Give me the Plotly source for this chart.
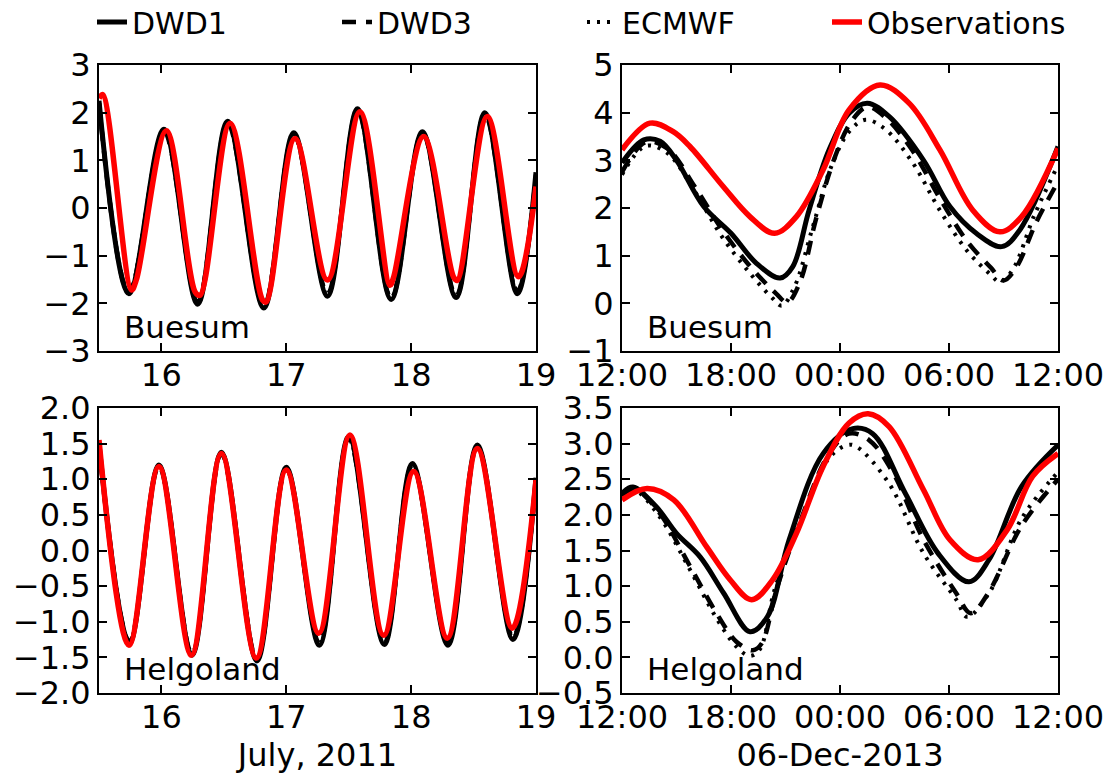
import plotly.graph_objects as go
from datetime import datetime, timedelta

# ---------------- Data ----------------
# July 2011, x = day of month (decimal days)
bue_jul_obs_t = [15.50, 15.53, 15.76, 15.80, 16.04, 16.27, 16.31, 16.55, 16.81, 16.84, 17.07, 17.33, 17.59, 17.83, 17.86, 18.10, 18.34, 18.37, 18.61, 18.86, 19.00]
bue_jul_obs_v = [2.30, 2.38, -1.72, -1.50, 1.62, -1.76, -1.83, 1.78, -1.93, -1.97, 1.46, -1.51, 2.02, -1.62, -1.45, 1.50, -1.45, -1.52, 1.92, -1.44, 0.45]

bue_jul_mod_t = [15.50, 15.74, 16.02, 16.29, 16.53, 16.82, 17.06, 17.33, 17.57, 17.84, 18.09, 18.36, 18.59, 18.85, 19.00]
bue_jul_dwd1_v = [2.25, -1.80, 1.65, -2.02, 1.82, -2.10, 1.58, -1.85, 2.08, -1.92, 1.60, -1.88, 2.00, -1.80, 0.75]
bue_jul_dwd3_v = [2.20, -1.78, 1.60, -1.98, 1.78, -2.05, 1.55, -1.80, 2.05, -1.90, 1.58, -1.85, 1.97, -1.75, 0.70]
bue_jul_ecmwf_v = [2.22, -1.75, 1.62, -2.00, 1.80, -2.08, 1.56, -1.83, 2.06, -1.88, 1.57, -1.86, 1.98, -1.78, 0.72]

hel_jul_obs_t = [15.50, 15.74, 15.98, 16.24, 16.48, 16.76, 17.00, 17.26, 17.51, 17.78, 18.02, 18.29, 18.53, 18.81, 19.00]
hel_jul_obs_v = [1.55, -1.33, 1.18, -1.47, 1.36, -1.51, 1.13, -1.16, 1.62, -1.19, 1.11, -1.23, 1.43, -1.09, 0.99]

hel_jul_mod_t = [15.50, 15.745, 15.98, 16.245, 16.48, 16.765, 17.00, 17.265, 17.50, 17.785, 18.01, 18.295, 18.53, 18.815, 19.00]
hel_jul_dwd1_v = [1.50, -1.30, 1.20, -1.47, 1.38, -1.55, 1.17, -1.33, 1.60, -1.32, 1.22, -1.33, 1.48, -1.25, 1.02]
hel_jul_dwd3_v = [1.48, -1.28, 1.18, -1.45, 1.36, -1.53, 1.15, -1.30, 1.58, -1.30, 1.20, -1.30, 1.46, -1.22, 1.00]
hel_jul_ecmwf_v = [1.49, -1.29, 1.19, -1.46, 1.37, -1.54, 1.16, -1.31, 1.59, -1.31, 1.21, -1.31, 1.47, -1.23, 1.01]

# December 2013, x = hours after 05-Dec-2013 12:00
bue_dec_obs_h = [0, 1.54, 2.82, 3.74, 5.57, 7.04, 8.4, 9.6, 11.07, 12.5, 14.2, 15.8, 17.5, 19.3, 20.8, 22.0, 24.0]
bue_dec_obs_v = [3.22, 3.78, 3.60, 3.29, 2.45, 1.82, 1.47, 1.82, 2.80, 4.06, 4.58, 4.20, 3.22, 1.96, 1.50, 1.82, 3.25]

bue_dec_dwd1_h = [0, 1.2, 2.1, 3.0, 4.5, 6.0, 7.4, 8.7, 9.4, 10.3, 11.4, 12.5, 13.5, 14.7, 16.6, 18.05, 19.5, 20.9, 21.9, 24.0]
bue_dec_dwd1_v = [2.95, 3.43, 3.40, 3.00, 2.03, 1.47, 0.84, 0.53, 0.77, 1.96, 3.22, 3.99, 4.20, 3.92, 3.00, 2.03, 1.47, 1.19, 1.54, 3.29]

bue_dec_dwd3_h = [0, 1.3, 2.5, 4.0, 5.5, 7.0, 8.5, 9.1, 9.8, 10.7, 11.7, 12.6, 13.5, 14.5, 16.0, 17.5, 19.0, 20.3, 21.0, 21.7, 22.8, 24.0]
bue_dec_dwd3_v = [2.75, 3.38, 3.25, 2.45, 1.55, 0.80, 0.20, 0.02, 0.45, 1.80, 3.05, 3.80, 4.12, 3.90, 3.20, 2.20, 1.30, 0.75, 0.48, 0.75, 1.70, 2.55]

bue_dec_ecmwf_h = [0, 1.3, 2.5, 4.0, 5.5, 7.0, 8.3, 8.8, 9.5, 10.5, 11.5, 12.5, 13.4, 14.5, 16.0, 17.5, 19.0, 20.3, 20.8, 21.5, 22.7, 24.0]
bue_dec_ecmwf_v = [2.70, 3.30, 3.15, 2.35, 1.40, 0.65, 0.10, -0.05, 0.35, 1.60, 2.85, 3.60, 3.85, 3.65, 2.95, 1.95, 1.10, 0.60, 0.45, 0.70, 1.85, 2.90]

hel_dec_obs_h = [0, 1.38, 2.85, 4.66, 5.95, 7.14, 8.3, 9.6, 11.07, 12.5, 13.55, 14.7, 16.6, 18.05, 19.6, 21.2, 22.6, 24.0]
hel_dec_obs_v = [2.21, 2.37, 2.21, 1.55, 1.09, 0.81, 1.09, 1.74, 2.68, 3.29, 3.42, 3.24, 2.35, 1.65, 1.37, 1.79, 2.54, 2.86]

hel_dec_dwd1_h = [0, 0.6, 1.9, 3.0, 4.3, 5.6, 7.05, 8.0, 9.2, 11.07, 12.7, 13.8, 15.6, 17.4, 19.1, 20.2, 22.0, 24.0]
hel_dec_dwd1_v = [2.30, 2.39, 2.11, 1.74, 1.41, 0.90, 0.36, 0.57, 1.65, 2.86, 3.21, 3.14, 2.30, 1.46, 1.06, 1.37, 2.40, 2.98]

hel_dec_dwd3_h = [0, 0.7, 2.0, 3.7, 5.2, 6.3, 7.2, 7.7, 8.5, 9.9, 11.4, 12.5, 13.6, 14.9, 16.6, 18.4, 19.2, 20.2, 22.0, 24.0]
hel_dec_dwd3_v = [2.28, 2.36, 2.05, 1.30, 0.62, 0.22, 0.10, 0.20, 0.95, 1.97, 2.86, 3.14, 3.05, 2.60, 1.65, 0.90, 0.62, 0.92, 1.85, 2.50]

hel_dec_ecmwf_h = [0, 0.7, 2.0, 3.7, 5.2, 6.3, 7.05, 7.6, 8.4, 9.9, 11.4, 12.4, 12.9, 14.7, 16.6, 18.4, 19.0, 20.2, 22.0, 24.0]
hel_dec_ecmwf_v = [2.26, 2.34, 2.00, 1.25, 0.55, 0.15, 0.02, 0.12, 0.95, 1.95, 2.80, 2.98, 2.96, 2.44, 1.46, 0.81, 0.57, 0.90, 1.95, 2.60]

dec_start = datetime(2013, 12, 5, 12, 0)


def to_dates(hours):
    return [dec_start + timedelta(hours=h) for h in hours]


FONT = "DejaVu Sans"

fig = go.Figure()


def add(x, y, xa, ya, kind, show):
    style = {
        "DWD1": dict(color="black", width=5, dash="solid"),
        "DWD3": dict(color="black", width=4.5, dash="14px,10px"),
        "ECMWF": dict(color="black", width=4.0, dash="3px,7px"),
        "Observations": dict(color="#ff0000", width=5.5, dash="solid"),
    }[kind]
    fig.add_trace(go.Scatter(
        x=x, y=y, mode="lines", name=kind, legendgroup=kind, showlegend=show,
        line=dict(shape="spline", smoothing=1.0, **style),
        xaxis=xa, yaxis=ya, hoverinfo="skip"))


# panel 1: Buesum July
add(bue_jul_mod_t, bue_jul_dwd1_v, "x", "y", "DWD1", True)
add(bue_jul_mod_t, bue_jul_dwd3_v, "x", "y", "DWD3", True)
add(bue_jul_mod_t, bue_jul_ecmwf_v, "x", "y", "ECMWF", True)
add(bue_jul_obs_t, bue_jul_obs_v, "x", "y", "Observations", True)
# panel 2: Buesum Dec
add(to_dates(bue_dec_dwd1_h), bue_dec_dwd1_v, "x2", "y2", "DWD1", False)
add(to_dates(bue_dec_dwd3_h), bue_dec_dwd3_v, "x2", "y2", "DWD3", False)
add(to_dates(bue_dec_ecmwf_h), bue_dec_ecmwf_v, "x2", "y2", "ECMWF", False)
add(to_dates(bue_dec_obs_h), bue_dec_obs_v, "x2", "y2", "Observations", False)
# panel 3: Helgoland July
add(hel_jul_mod_t, hel_jul_dwd1_v, "x3", "y3", "DWD1", False)
add(hel_jul_mod_t, hel_jul_dwd3_v, "x3", "y3", "DWD3", False)
add(hel_jul_mod_t, hel_jul_ecmwf_v, "x3", "y3", "ECMWF", False)
add(hel_jul_obs_t, hel_jul_obs_v, "x3", "y3", "Observations", False)
# panel 4: Helgoland Dec
add(to_dates(hel_dec_dwd1_h), hel_dec_dwd1_v, "x4", "y4", "DWD1", False)
add(to_dates(hel_dec_dwd3_h), hel_dec_dwd3_v, "x4", "y4", "DWD3", False)
add(to_dates(hel_dec_ecmwf_h), hel_dec_ecmwf_v, "x4", "y4", "ECMWF", False)
add(to_dates(hel_dec_obs_h), hel_dec_obs_v, "x4", "y4", "Observations", False)

W, H = 1108, 774
ML, MR, MT, MB = 99, 50, 65, 81
PW, PH = W - ML - MR, H - MT - MB
left_dom = [0.0, (536 - ML) / PW]
right_dom = [(622 - ML) / PW, 1.0]
top_dom = [1 - (351 - MT) / PH, 1.0]
bot_dom = [0.0, (693 - 408) / PH]

axis_common = dict(showline=True, linecolor="black", linewidth=2, mirror="allticks",
                   ticks="inside", ticklen=8, tickwidth=1.5, tickcolor="black",
                   showgrid=False, zeroline=False, automargin=False,
                   tickfont=dict(family=FONT, size=32, color="black"))
xaxis_extra = dict(ticklabelstandoff=-5)

jul_ticks = [16, 17, 18, 19]
dec_range = [dec_start, dec_start + timedelta(hours=24)]
six_h = 6 * 3600 * 1000

fig.update_layout(
    width=W, height=H, margin=dict(l=ML, r=MR, t=MT, b=MB, autoexpand=False),
    paper_bgcolor="white", plot_bgcolor="white",
    font=dict(family=FONT, size=32, color="black"),
    showlegend=True,
    legend=dict(orientation="h", x=(92 - ML) / PW, y=1 + (MT + 4) / PH, xanchor="left", yanchor="top",
                font=dict(family=FONT, size=30, color="black"),
                itemwidth=30, entrywidth=200, entrywidthmode="pixels",
                bgcolor="rgba(0,0,0,0)"),
    xaxis=dict(domain=left_dom, anchor="y", range=[15.5, 19.0], tickvals=jul_ticks,
               **xaxis_extra, **axis_common),
    yaxis=dict(domain=top_dom, anchor="x", range=[-3, 3], dtick=1, **axis_common),
    xaxis2=dict(domain=right_dom, anchor="y2", type="date", range=dec_range,
                dtick=six_h, tick0=dec_start, tickformat="%H:%M", **xaxis_extra, **axis_common),
    yaxis2=dict(domain=top_dom, anchor="x2", range=[-1, 5], dtick=1, **axis_common),
    xaxis3=dict(domain=left_dom, anchor="y3", range=[15.5, 19.0], tickvals=jul_ticks,
                title=dict(text="July, 2011", standoff=12, font=dict(family=FONT, size=32)),
                **xaxis_extra, **axis_common),
    yaxis3=dict(domain=bot_dom, anchor="x3", range=[-2.0, 2.0], dtick=0.5, tickformat=".1f", **axis_common),
    xaxis4=dict(domain=right_dom, anchor="y4", type="date", range=dec_range,
                dtick=six_h, tick0=dec_start, tickformat="%H:%M",
                title=dict(text="06-Dec-2013", standoff=12, font=dict(family=FONT, size=32)),
                **xaxis_extra, **axis_common),
    yaxis4=dict(domain=bot_dom, anchor="x4", range=[-0.5, 3.5], dtick=0.5, tickformat=".1f", **axis_common),
)

labels = [("x", "y", "Buesum"), ("x2", "y2", "Buesum"), ("x3", "y3", "Helgoland"), ("x4", "y4", "Helgoland")]
for xa, ya, txt in labels:
    fig.add_annotation(text=txt, xref=f"{xa} domain", yref=f"{ya} domain", x=0.053, y=0.0,
                       xanchor="left", yanchor="bottom", showarrow=False, yshift=4,
                       font=dict(family=FONT, size=31, color="black"))

fig.write_html("out.html")
